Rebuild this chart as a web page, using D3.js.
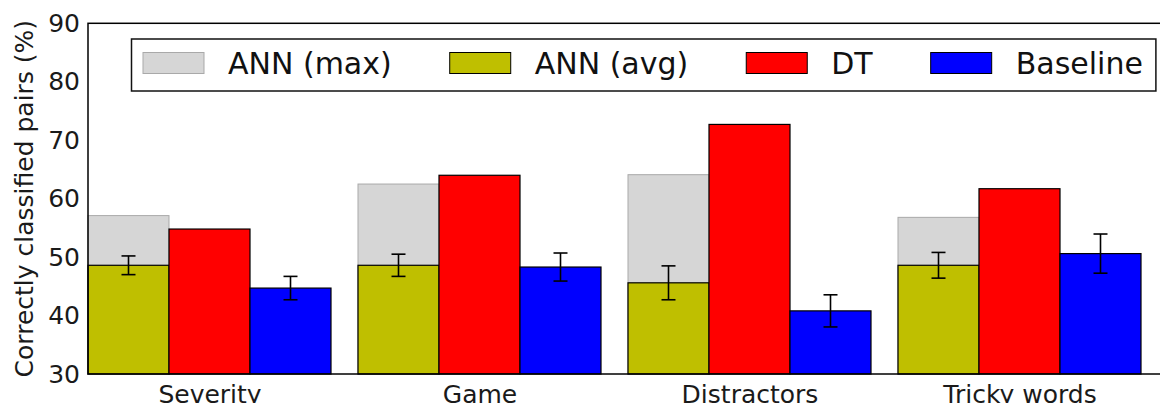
<!DOCTYPE html>
<html>
<head>
<meta charset="utf-8">
<script src="https://cdn.jsdelivr.net/npm/d3@7"></script>
<style>
  body { margin: 0; background: #fff; }
  svg { display: block; font-family: "DejaVu Sans", sans-serif; }
</style>
</head>
<body>
<div id="chart"></div>
<script>
// data
var categories = ["Severity", "Game", "Distractors", "Tricky words"];
var annMax = [57.1, 62.5, 64.1, 56.8];
var annAvg = [48.6, 48.6, 45.6, 48.6];
var annAvgErr = [1.6, 1.9, 2.9, 2.2];
var dt = [54.8, 64.0, 72.7, 61.7];
var baseline = [44.7, 48.3, 40.8, 50.6];
var baselineErr = [2.0, 2.4, 2.75, 3.35];
var yTicks = [30, 40, 50, 60, 70, 80, 90];
var legendNames = ["ANN (max)", "ANN (avg)", "DT", "Baseline"];

var W = 1160, H = 403;
var margin = {top: 23.3, left: 88, bottom: 29};
var barW = 0.3;

var svg = d3.select("#chart").append("svg")
    .attr("width", W)
    .attr("height", H);

var x = d3.scaleLinear().domain([0, 4]).range([margin.left, margin.left + 1080]);
var y = d3.scaleLinear().domain([30, 90]).range([H - margin.bottom, margin.top]);

var colors = {max: "#d6d6d6", avg: "#bfbf00", dt: "#ff0000", base: "#0000ff"};

// ANN (max) drawn behind ANN (avg)
svg.append("g").selectAll("rect")
    .data(annMax)
  .enter().append("rect")
    .attr("x", function(d, i) { return x(i); })
    .attr("y", function(d) { return y(d); })
    .attr("width", x(barW) - x(0))
    .attr("height", function(d) { return y(30) - y(d); })
    .attr("fill", colors.max)
    .attr("stroke", "#a9a9a9")
    .attr("stroke-width", 1);

function bars(data, offset, color) {
  svg.append("g").selectAll("rect")
      .data(data)
    .enter().append("rect")
      .attr("x", function(d, i) { return x(i + offset); })
      .attr("y", function(d) { return y(d); })
      .attr("width", x(barW) - x(0))
      .attr("height", function(d) { return y(30) - y(d); })
      .attr("fill", color)
      .attr("stroke", "#000")
      .attr("stroke-width", 1.2);
}
bars(annAvg, 0, colors.avg);
bars(dt, barW, colors.dt);
bars(baseline, 2 * barW, colors.base);

function errorBars(data, errs, offset) {
  var g = svg.append("g").attr("stroke", "#000").attr("stroke-width", 1.6);
  data.forEach(function(d, i) {
    var cx = x(i + offset + barW / 2);
    var lo = y(d - errs[i]), hi = y(d + errs[i]);
    g.append("line").attr("x1", cx).attr("x2", cx).attr("y1", lo).attr("y2", hi);
    g.append("line").attr("x1", cx - 7).attr("x2", cx + 7).attr("y1", lo).attr("y2", lo);
    g.append("line").attr("x1", cx - 7).attr("x2", cx + 7).attr("y1", hi).attr("y2", hi);
  });
}
errorBars(annAvg, annAvgErr, 0);
errorBars(baseline, baselineErr, 2 * barW);

// frame (right side lies outside the window)
svg.append("rect")
    .attr("x", x(0))
    .attr("y", y(90))
    .attr("width", x(4) - x(0))
    .attr("height", y(30) - y(90))
    .attr("fill", "none")
    .attr("stroke", "#000")
    .attr("stroke-width", 1.5);

// y axis
var yAxis = svg.append("g")
    .attr("transform", "translate(" + x(0) + ",0)")
    .call(d3.axisLeft(y).tickValues(yTicks).tickSize(0).tickPadding(8));
yAxis.select(".domain").remove();
yAxis.selectAll("text")
    .attr("font-family", "DejaVu Sans")
    .attr("font-size", "25px")
    .attr("fill", "#1a1a1a");

// x axis labels at group centres
var xAxis = svg.append("g")
    .attr("transform", "translate(0," + y(30) + ")")
    .call(d3.axisBottom(x)
      .tickValues(d3.range(categories.length).map(function(i) { return i + 1.5 * barW; }))
      .tickFormat(function(d, i) { return categories[i]; })
      .tickSize(0).tickPadding(11));
xAxis.select(".domain").remove();
xAxis.selectAll("text")
    .attr("font-family", "DejaVu Sans")
    .attr("font-size", "25px")
    .attr("fill", "#1a1a1a");

svg.append("text")
    .attr("transform", "translate(24," + ((y(30) + y(90)) / 2) + ") rotate(-90)")
    .attr("text-anchor", "middle")
    .attr("dominant-baseline", "central")
    .attr("font-size", "25px")
    .attr("fill", "#1a1a1a")
    .text("Correctly classified pairs (%)");

// legend
var legend = svg.append("g");
var legendBox = legend.append("rect")
    .attr("y", 39)
    .attr("height", 52)
    .attr("fill", "#fff")
    .attr("stroke", "#111")
    .attr("stroke-width", 1.5);
var legendFill = [colors.max, colors.avg, colors.dt, colors.base];
var legendStroke = ["#a9a9a9", "#000", "#000", "#000"];
var lx = 143;
legendNames.forEach(function(name, i) {
  legend.append("rect")
      .attr("x", lx).attr("y", 52.5)
      .attr("width", 61).attr("height", 21)
      .attr("fill", legendFill[i])
      .attr("stroke", legendStroke[i])
      .attr("stroke-width", 1);
  var t = legend.append("text")
      .attr("x", lx + 85)
      .attr("y", 63)
      .attr("dominant-baseline", "central")
      .attr("font-size", "30px")
      .attr("fill", "#111")
      .text(name);
  lx = lx + 85 + t.node().getComputedTextLength() + 58;
});
legendBox.attr("x", 131.5).attr("width", lx - 58 + 13 - 131.5);
</script>
</body>
</html>
